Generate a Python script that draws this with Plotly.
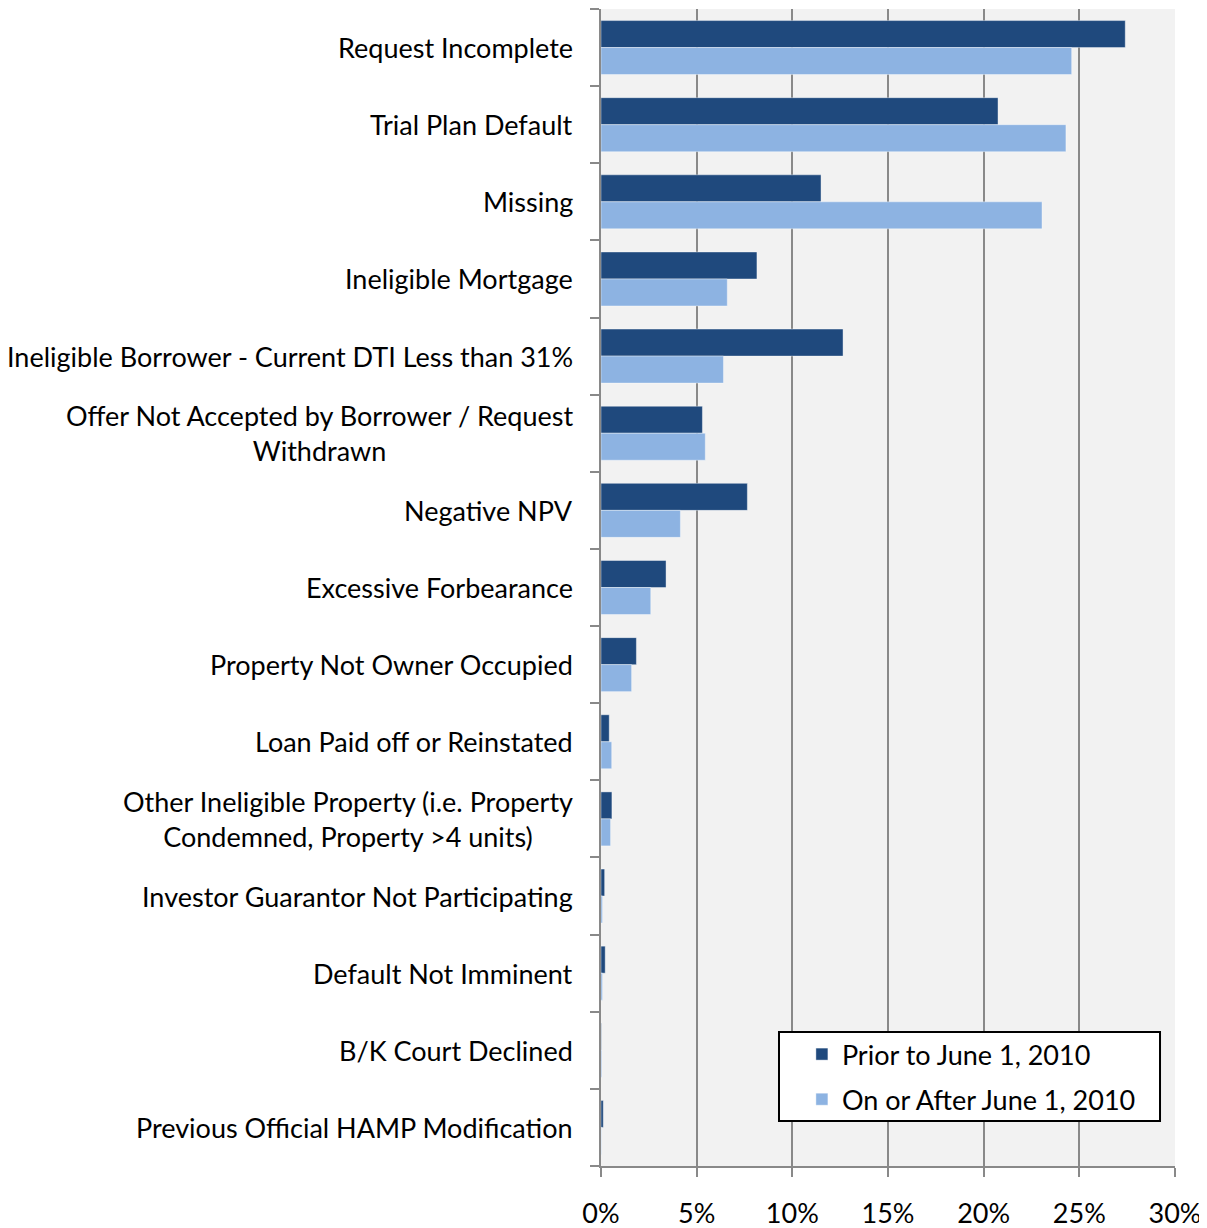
import plotly.graph_objects as go

categories = [
    "Request Incomplete",
    "Trial Plan Default",
    "Missing",
    "Ineligible Mortgage",
    "Ineligible Borrower - Current DTI Less than 31%",
    "Offer Not Accepted by Borrower / Request<br>Withdrawn",
    "Negative NPV",
    "Excessive Forbearance",
    "Property Not Owner Occupied",
    "Loan Paid off or Reinstated",
    "Other Ineligible Property (i.e. Property<br>Condemned, Property >4 units)",
    "Investor Guarantor Not Participating",
    "Default Not Imminent",
    "B/K Court Declined",
    "Previous Official HAMP Modification",
]
prior = [27.4, 20.75, 11.5, 8.15, 12.65, 5.3, 7.65, 3.4, 1.85, 0.43, 0.57, 0.19, 0.22, 0.02, 0.12]
after = [24.6, 24.3, 23.05, 6.6, 6.4, 5.45, 4.15, 2.6, 1.6, 0.56, 0.5, 0.08, 0.08, 0.04, 0.02]
series_names = ["Prior to June 1, 2010", "On or After June 1, 2010"]
x_ticks = [0, 5, 10, 15, 20, 25, 30]
x_ticklabels = ["0%", "5%", "10%", "15%", "20%", "25%", "30%"]

FONT = "Lato, Carlito, 'Open Sans', sans-serif"
FS = 27
ids = list(range(len(categories)))

fig = go.Figure()
fig.add_trace(go.Bar(y=ids, x=prior, orientation="h", name=series_names[0], legendgroup="a",
                     marker=dict(color="#1F497D", line=dict(color="rgba(255,255,255,0.4)", width=1))))
fig.add_trace(go.Bar(y=ids, x=after, orientation="h", name=series_names[1], legendgroup="b",
                     marker=dict(color="#8DB3E2", line=dict(color="rgba(255,255,255,0.4)", width=1))))

for i, c in enumerate(categories):
    fig.add_annotation(x=0, xref="x", y=i, yref="y", text=c, showarrow=False,
                       xanchor="right", yanchor="middle", align="center", xshift=-26,
                       font=dict(family=FONT, size=FS, color="#000"))

# legend frame
fig.add_shape(type="rect", xref="paper", yref="paper", x0=0.3101, x1=0.9739, y0=0.0389, y1=0.1158,
              line=dict(color="black", width=2), fillcolor="white", layer="above")

fig.update_layout(
    width=1199, height=1220,
    margin=dict(l=593, r=32, t=1, b=62),
    barmode="group", bargap=0.3, bargroupgap=0,
    plot_bgcolor="#F2F2F2", paper_bgcolor="white",
    font=dict(family=FONT, size=FS, color="#000"),
    legend=dict(x=0.350, y=0.1175, xanchor="left", yanchor="top",
                bgcolor="rgba(0,0,0,0)", borderwidth=0,
                font=dict(family=FONT, size=FS, color="#000"),
                itemwidth=30, traceorder="grouped", tracegroupgap=7),
    showlegend=True,
)
fig.update_xaxes(range=[0, 30], tickvals=x_ticks, ticktext=x_ticklabels,
                 showgrid=True, gridcolor="#898989", gridwidth=2,
                 showline=True, linecolor="#898989", linewidth=2,
                 ticks="outside", ticklen=9, tickcolor="#898989", tickwidth=2,
                 ticklabelstandoff=14, zeroline=False, automargin=False,
                 tickfont=dict(family=FONT, size=FS, color="#000"))
fig.update_yaxes(type="linear", range=[len(categories) - 0.5, -0.5],
                 tickvals=[i - 0.5 for i in range(len(categories) + 1)],
                 showticklabels=False, showgrid=False, automargin=False,
                 showline=True, linecolor="#898989", linewidth=2,
                 ticks="outside", ticklen=9, tickcolor="#898989", tickwidth=2,
                 zeroline=False)

fig.write_html("out.html")
